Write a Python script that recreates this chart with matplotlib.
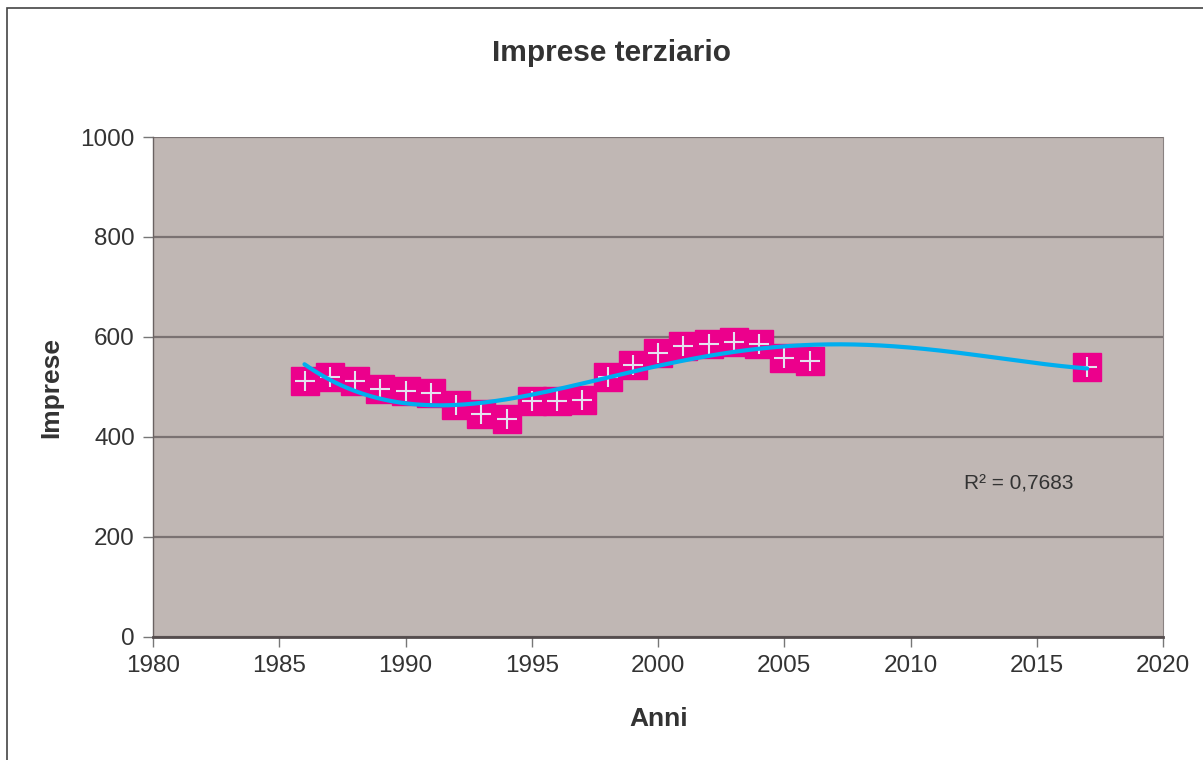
import numpy as np
import matplotlib.pyplot as plt
from matplotlib.patches import Rectangle

plt.rcParams['font.family'] = ['Liberation Sans', 'DejaVu Sans']

# -----------------------------
# DATA
# -----------------------------
anni = np.array([1986, 1987, 1988, 1989, 1990, 1991, 1992, 1993, 1994, 1995,
                 1996, 1997, 1998, 1999, 2000, 2001, 2002, 2003, 2004, 2005,
                 2006, 2017])
imprese = np.array([511, 520, 511, 496, 492, 488, 464, 445, 435, 472,
                    472, 473, 520, 544, 568, 582, 585, 589, 585, 557,
                    552, 539])

# -----------------------------
# TRENDLINE (polynomial, order 4)
# -----------------------------
coef = np.polyfit(anni - 2000, imprese, 4)
xt = np.linspace(anni.min(), anni.max(), 300)
yt = np.polyval(coef, xt - 2000)

# -----------------------------
# PLOT
# -----------------------------
fig = plt.figure(figsize=(12.03, 7.6), dpi=100)
ax = fig.add_axes([153 / 1203, 1 - 636.5 / 760, 1010 / 1203, 499.5 / 760])
ax.set_facecolor('#c0b7b4')

# outer chart border (cut at right/bottom)
fig.patches.append(Rectangle((7 / 1203, -0.05), 1.2, 1 - 8 / 760 + 0.05,
                             transform=fig.transFigure, fill=False,
                             edgecolor='#444444', lw=1.2))

ax.set_xlim(1980, 2020)
ax.set_ylim(0, 1000)
ax.set_xticks(np.arange(1980, 2021, 5))
ax.set_yticks(np.arange(0, 1001, 200))
ax.grid(axis='y', color='#7a7272', lw=1.6)
ax.set_axisbelow(True)

ax.spines['top'].set_visible(False)
ax.spines['right'].set_color('#8a8282')
ax.spines['right'].set_linewidth(0.8)
ax.spines['left'].set_color('#6a6262')
ax.spines['left'].set_linewidth(1.0)
ax.spines['bottom'].set_color('#544c4d')
ax.spines['bottom'].set_linewidth(2.0)

ax.tick_params(direction='out', length=7, width=1, color='#777777',
               labelsize=17.5, labelcolor='#333333', pad=6)

ax.plot(anni, imprese, ls='none', marker='s', ms=19.5, mfc='#ec008c',
        mec='#ec008c', zorder=3)
ax.plot(anni, imprese, ls='none', marker='+', ms=15, mew=1.5,
        mec='#e4e2f0', zorder=4)
ax.plot(xt, yt, color='#00aeef', lw=3, zorder=5, solid_capstyle='round')

ax.text(2012.1, 306, "R\u00b2 = 0,7683", fontsize=15, color='#333333',
        va='center')

fig.text(611 / 1203, 1 - 53 / 760, "Imprese terziario", fontsize=21.5,
         fontweight='bold', color='#333333', ha='center', va='center')
fig.text(659 / 1203, 1 - 719 / 760, "Anni", fontsize=19, fontweight='bold',
         color='#333333', ha='center', va='center')
fig.text(51 / 1203, 1 - 388 / 760, "Imprese", fontsize=19, fontweight='bold',
         color='#333333', ha='center', va='center', rotation=90)

fig.savefig("out.png", dpi=100)
plt.close(fig)
